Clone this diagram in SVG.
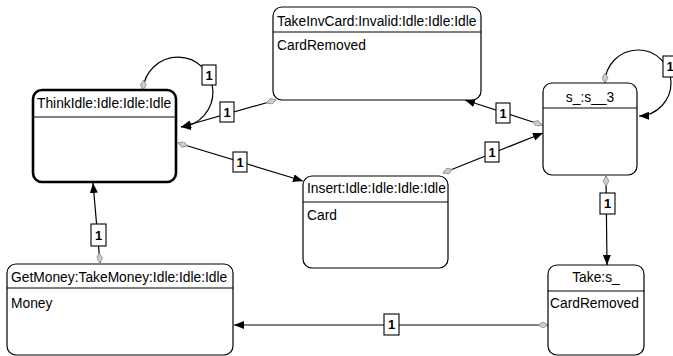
<svg xmlns="http://www.w3.org/2000/svg" width="673" height="356" viewBox="0 0 673 356">
<style>
.box{fill:#fff;stroke:#000;stroke-width:1.2}
.thick{stroke-width:2.6}
.div{stroke:#000;stroke-width:1}
.t{font-family:"Liberation Sans",Arial,sans-serif;font-size:13.8px;fill:#000}
.c{text-anchor:middle}
.edge{fill:none;stroke:#000;stroke-width:1.2;marker-end:url(#arrow);marker-start:url(#dia)}
.lb{fill:#fff;stroke:#000;stroke-width:1.1}
.lt{font-family:"Liberation Sans",Arial,sans-serif;font-size:13px;font-weight:bold;text-anchor:middle;fill:#000}
</style>
<defs>
<marker id="arrow" markerUnits="userSpaceOnUse" markerWidth="12" markerHeight="10" refX="10" refY="4" orient="auto">
<path d="M0,0 L10,4 L0,8 z" fill="#000"/>
</marker>
<marker id="dia" markerUnits="userSpaceOnUse" markerWidth="12" markerHeight="8" refX="0" refY="3" orient="auto">
<path d="M0,3 L5,0 L10,3 L5,6 z" fill="#ccc" stroke="#888" stroke-width="0.8"/>
</marker>
</defs>
<g id="connectors">
<path class="edge" d="M143,90 A35,35 0 1 1 181,127"/>
<path class="edge" d="M276,100 L181,127"/>
<path class="edge" d="M178,143 L303,181"/>
<path class="edge" d="M542,125 L465,100"/>
<path class="edge" d="M443,173 L543,133"/>
<path class="edge" d="M605,83 A33,33 0 1 1 639,116"/>
<path class="edge" d="M606,176 L607,265"/>
<path class="edge" d="M548,325 L234,325"/>
<path class="edge" d="M100,263 L93,183"/>
<rect class="lb" x="202" y="65" width="14" height="20"/><text class="lt" x="209" y="80">1</text>
<rect class="lb" x="220" y="102" width="14" height="20"/><text class="lt" x="227" y="117">1</text>
<rect class="lb" x="233" y="152" width="14" height="20"/><text class="lt" x="240" y="167">1</text>
<rect class="lb" x="496" y="103" width="14" height="20"/><text class="lt" x="503" y="118">1</text>
<rect class="lb" x="485" y="142" width="14" height="20"/><text class="lt" x="492" y="157">1</text>
<rect class="lb" x="663" y="56" width="14" height="21"/><text class="lt" x="670" y="71">1</text>
<rect class="lb" x="600" y="193" width="15" height="21"/><text class="lt" x="607.5" y="208">1</text>
<rect class="lb" x="384" y="314" width="15" height="21"/><text class="lt" x="391.5" y="329">1</text>
<rect class="lb" x="91" y="224" width="15" height="22"/><text class="lt" x="98.5" y="240">1</text>
</g>
<g id="ThinkIdle">
<rect class="box thick" x="33" y="90" width="143" height="92" rx="9"/>
<line class="div" x1="33" y1="117" x2="176" y2="117"/>
<text class="t" x="37" y="108">ThinkIdle:Idle:Idle:Idle</text>
</g>
<g id="TakeInvCard">
<rect class="box" x="273" y="7" width="208" height="93" rx="9"/>
<line class="div" x1="273" y1="32" x2="481" y2="32"/>
<text class="t" x="277" y="26">TakeInvCard:Invalid:Idle:Idle:Idle</text>
<text class="t" x="277" y="50">CardRemoved</text>
</g>
<g id="s_s__3">
<rect class="box" x="543" y="83" width="94" height="92" rx="9"/>
<line class="div" x1="543" y1="108" x2="637" y2="108"/>
<text class="t c" x="590" y="102">s_:s__3</text>
</g>
<g id="Insert">
<rect class="box" x="303" y="176" width="145" height="92" rx="9"/>
<line class="div" x1="303" y1="202" x2="448" y2="202"/>
<text class="t" x="307" y="193">Insert:Idle:Idle:Idle:Idle</text>
<text class="t" x="307" y="220">Card</text>
</g>
<g id="GetMoney">
<rect class="box" x="7" y="264" width="226" height="91" rx="9"/>
<line class="div" x1="7" y1="288" x2="233" y2="288"/>
<text class="t" x="11" y="282">GetMoney:TakeMoney:Idle:Idle:Idle</text>
<text class="t" x="11" y="308">Money</text>
</g>
<g id="Take">
<rect class="box" x="548" y="265" width="96" height="90" rx="9"/>
<line class="div" x1="548" y1="291" x2="644" y2="291"/>
<text class="t c" x="596" y="282">Take:s_</text>
<text class="t" x="550" y="308">CardRemoved</text>
</g>
</svg>
